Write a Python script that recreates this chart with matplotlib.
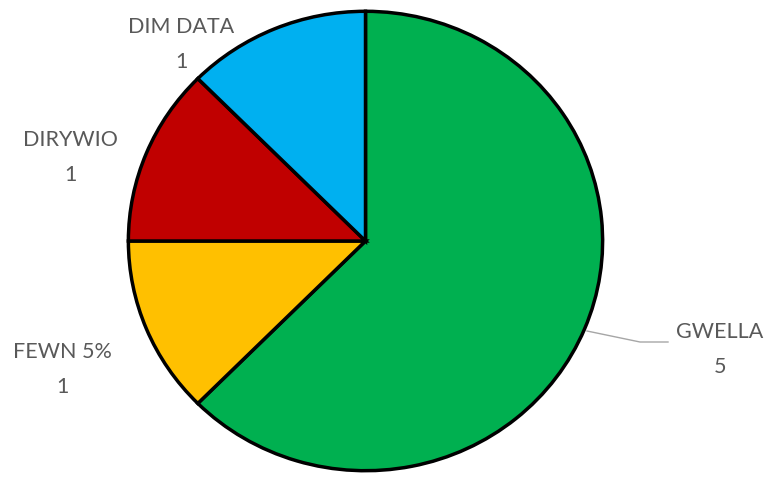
import matplotlib.pyplot as plt
from matplotlib.lines import Line2D

labels = ["GWELLA", "FEWN 5%", "DIRYWIO", "DIM DATA"]
values = [5, 1, 1, 1]
colors = ["#00B050", "#FFC000", "#C00000", "#00B0F0"]

W, H = 782, 480
fig = plt.figure(figsize=(W / 100, H / 100), dpi=100)

# pie box in pixel coords (left, top, right, bottom)
px0, py0, px1, py1 = 126, 9, 605, 473
ax = fig.add_axes([px0 / W, 1 - py1 / H, (px1 - px0) / W, (py1 - py0) / H])
ax.pie(values, colors=colors, startangle=90, counterclock=False, radius=1,
       wedgeprops=dict(edgecolor="black", linewidth=2.5))
ax.set_aspect("auto")
ax.set_xlim(-1.01, 1.01)
ax.set_ylim(-1.01, 1.01)
ax.axis("off")

# data labels (pixel positions of label centres)
label_pos = [(720, 332), (62, 352), (70, 140), (181, 27)]
for name, val, (x, y) in zip(labels, values, label_pos):
    fig.text(x / W, 1 - y / H, name, ha="center", va="center",
             fontsize=15.5, color="#595959", family="Lato")
    fig.text(x / W, 1 - (y + 35) / H, str(val), ha="center", va="center",
             fontsize=15.5, color="#595959", family="Lato")

# leader line for GWELLA
lx = [587, 640, 668]
ly = [331, 342, 342]
fig.add_artist(Line2D([v / W for v in lx], [1 - v / H for v in ly],
                      color="#A6A6A6", linewidth=1, transform=fig.transFigure))

fig.savefig("out.png", dpi=100)
